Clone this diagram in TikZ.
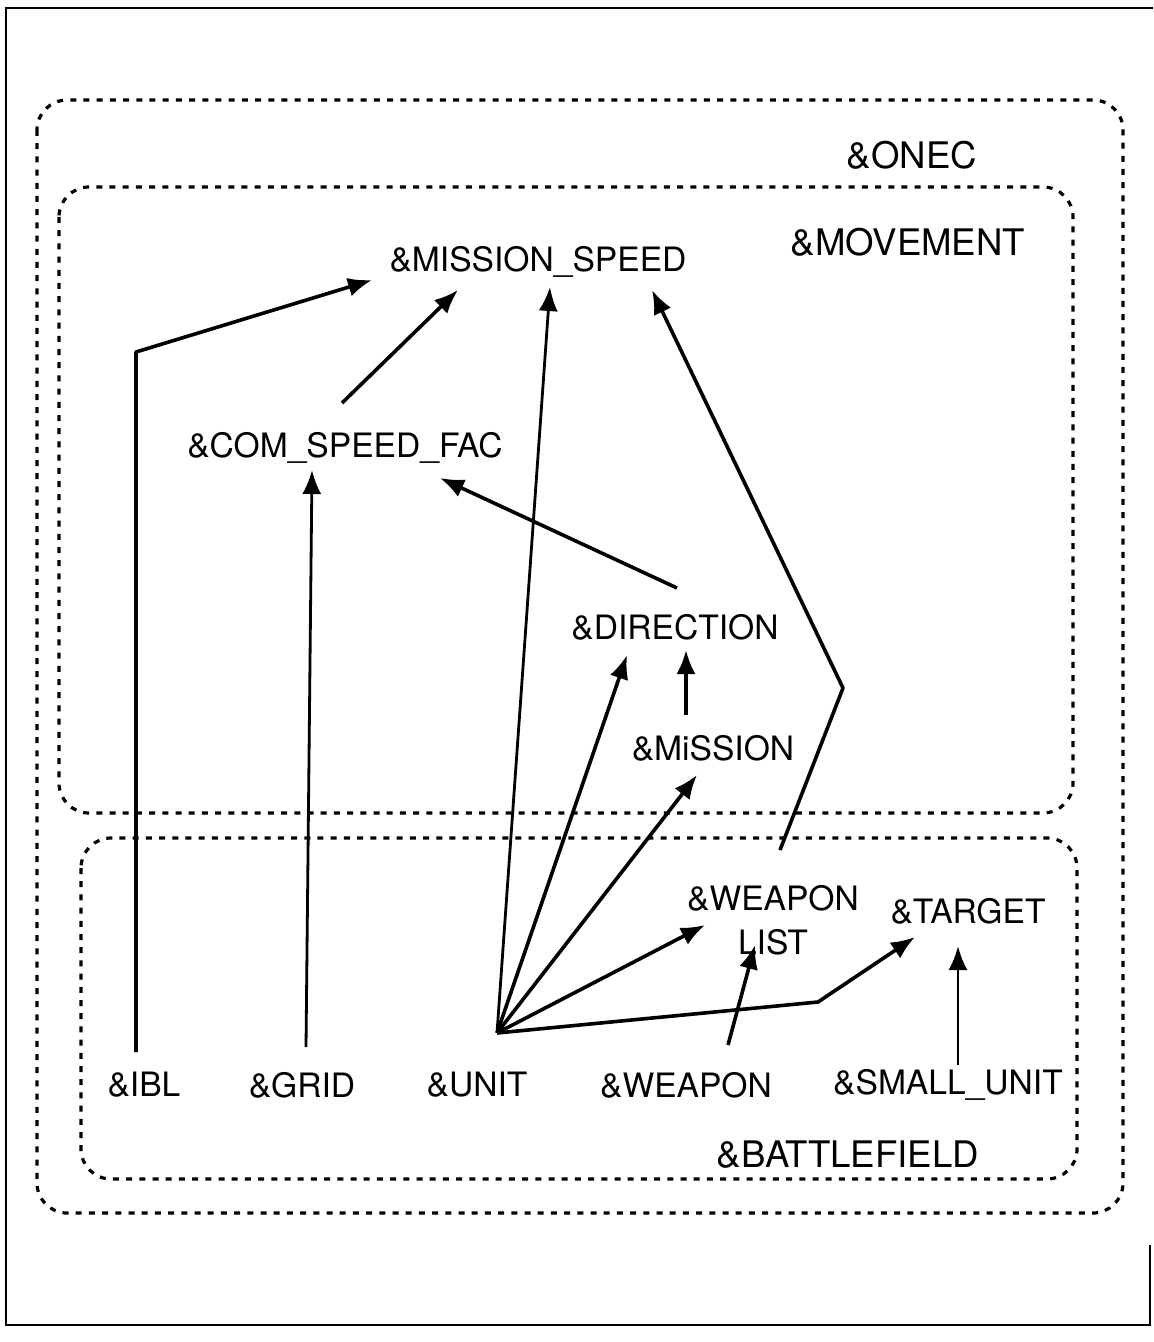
\documentclass[tikz,border=0pt]{standalone}
\usepackage{fontspec}
\setmainfont{TeX Gyre Heros}
\usetikzlibrary{arrows.meta}
\begin{document}
\begin{tikzpicture}[x=0.5pt,y=-0.5pt,
  lbl/.style={inner sep=0pt, font=\fontsize{16.8}{22}\selectfont},
  glbl/.style={inner sep=0pt, font=\fontsize{18.3}{22}\selectfont},
  arr/.style={line width=1.8pt, -{Latex[length=12pt,width=9.5pt]}, line join=round},
  thin/.style={line width=1.4pt},
  grp/.style={line width=1.6pt, dash pattern=on 3pt off 3.6pt, rounded corners=15pt},
  frame/.style={line width=1.1pt}]
\useasboundingbox (0,0) rectangle (1153,1342);
% outer frame
\draw[frame] (1153,8) -- (6,8) -- (6,1325) -- (1150,1325) -- (1150,1245);
% group boxes
\draw[grp] (37,100) rectangle (1123,1213);
\draw[grp] (59,187) rectangle (1073,813);
\draw[grp] (81,838) rectangle (1077,1179);
% labels
\node[glbl] (onec) at (912,155) {\&ONEC};
\node[glbl] (movement) at (908,242) {\&MOVEMENT};
\node[lbl] (mspeed) at (538,262) {\&MISSION\_SPEED};
\node[lbl] (csf) at (345,448) {\&COM\_SPEED\_FAC};
\node[lbl] (dir) at (675,627) {\&DIRECTION};
\node[lbl] (mission) at (713,748) {\&MiSSION};
\node[lbl, align=center] (wlist) at (773,920) {\&WEAPON\\LIST};
\node[lbl] (target) at (968,911) {\&TARGET};
\node[lbl] (ibl) at (144,1085) {\&IBL};
\node[lbl] (grid) at (302,1085) {\&GRID};
\node[lbl] (unit) at (477,1085) {\&UNIT};
\node[lbl] (weapon) at (686,1085) {\&WEAPON};
\node[lbl] (small) at (948,1085) {\&SMALL\_UNIT};
\node[glbl] (battle) at (848,1155) {\&BATTLEFIELD};
% connector end points
\coordinate (iblS) at (136,1052);
\coordinate (iblK) at (136,352);
\coordinate (msA) at (372,280);
\coordinate (msB) at (458,290);
\coordinate (msC) at (550,287);
\coordinate (msD) at (652,290);
\coordinate (csfS) at (342,403);
\coordinate (gridS) at (306,1047);
\coordinate (csfA) at (312,470);
\coordinate (csfB) at (440,478);
\coordinate (dirS) at (677,588);
\coordinate (unitS) at (497,1033);
\coordinate (dirA) at (627,655);
\coordinate (dirB) at (686,650);
\coordinate (misS) at (686,715);
\coordinate (misA) at (697,775);
\coordinate (wlA) at (705,925);
\coordinate (wlB) at (755,945);
\coordinate (wlS) at (780,850);
\coordinate (wlK) at (843,688);
\coordinate (tgK) at (818,1002);
\coordinate (tgA) at (915,937);
\coordinate (tgB) at (958,946);
\coordinate (wpS) at (728,1045);
\coordinate (suS) at (958,1065);
% connectors
\draw[arr] (iblS) -- (iblK) -- (msA);
\draw[arr] (csfS) -- (msB);
\draw[arr, thin] (unitS) -- (msC);
\draw[arr] (wlS) -- (wlK) -- (msD);
\draw[arr, thin] (gridS) -- (csfA);
\draw[arr] (dirS) -- (csfB);
\draw[arr] (unitS) -- (dirA);
\draw[arr] (misS) -- (dirB);
\draw[arr] (unitS) -- (misA);
\draw[arr] (unitS) -- (wlA);
\draw[arr] (unitS) -- (tgK) -- (tgA);
\draw[arr] (wpS) -- (wlB);
\draw[arr, thin] (suS) -- (tgB);
\end{tikzpicture}
\end{document}
